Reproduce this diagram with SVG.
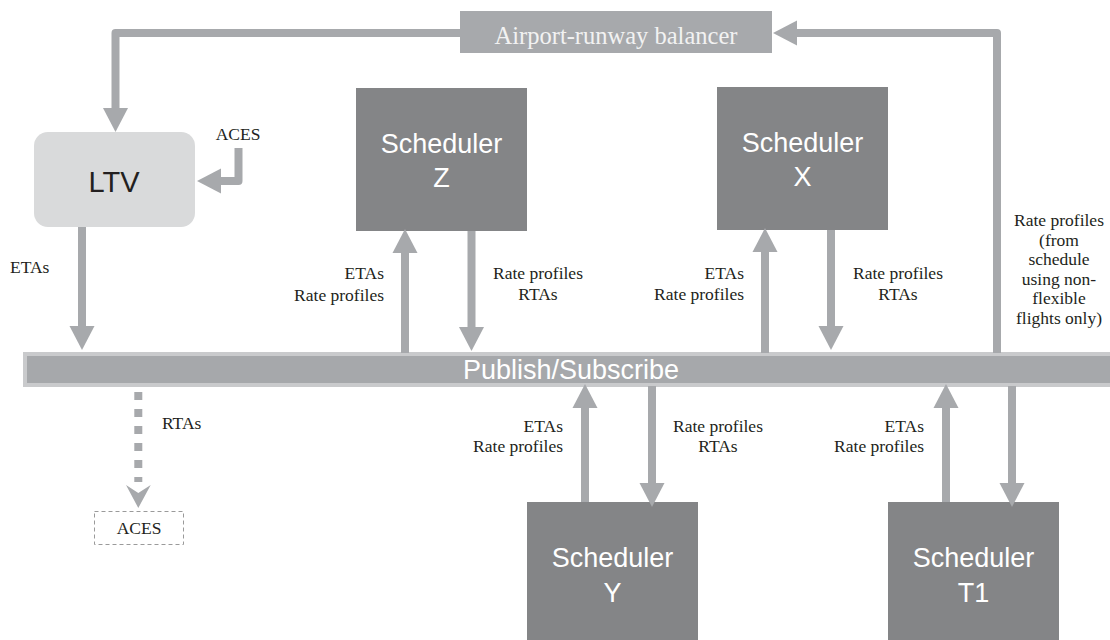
<svg xmlns="http://www.w3.org/2000/svg" width="1110" height="640" viewBox="0 0 1110 640">
  <style>
    .sched { fill: #848587; }
    .sched-text { font-family: "Liberation Sans", Arial, sans-serif; font-size: 27px; fill: #ffffff; text-anchor: middle; }
    .lbl { font-family: "Liberation Serif", "Times New Roman", serif; font-size: 17.5px; fill: #231f20; }
    .mid { text-anchor: middle; }
    .end { text-anchor: end; }
    .wire { fill: none; stroke: #a7a9ac; stroke-width: 8; stroke-linejoin: round; marker-end: url(#head); }
  </style>
  <defs>
    <marker id="head" markerUnits="userSpaceOnUse" markerWidth="26" markerHeight="28" refX="0" refY="13" orient="auto" overflow="visible">
      <path d="M0,0.5 L24,13 L0,25.5 Z" fill="#a7a9ac"/>
    </marker>
  </defs>

  <rect width="1110" height="640" fill="#ffffff"/>

  <!-- Nodes -->
  <g id="balancer">
    <rect x="460" y="11" width="312" height="42" fill="#a7a9ac"/>
    <text x="616" y="44" font-family="'Liberation Serif', 'Times New Roman', serif" font-size="24.5" fill="#f2f2f2" text-anchor="middle">Airport-runway balancer</text>
  </g>

  <g id="ltv">
    <rect x="34" y="132" width="161" height="95" rx="14" fill="#d9dadb"/>
    <text x="114" y="192" font-family="'Liberation Sans', Arial, sans-serif" font-size="29" fill="#231f20" text-anchor="middle">LTV</text>
  </g>

  <g id="scheduler-z">
    <rect class="sched" x="356" y="88" width="171" height="143"/>
    <text class="sched-text" x="441.5" y="153">Scheduler</text>
    <text class="sched-text" x="441.5" y="187">Z</text>
  </g>

  <g id="scheduler-x">
    <rect class="sched" x="717" y="87" width="171" height="143"/>
    <text class="sched-text" x="802.5" y="152">Scheduler</text>
    <text class="sched-text" x="802.5" y="186">X</text>
  </g>

  <g id="scheduler-y">
    <rect class="sched" x="527" y="502" width="171" height="140"/>
    <text class="sched-text" x="612.5" y="567">Scheduler</text>
    <text class="sched-text" x="612.5" y="602">Y</text>
  </g>

  <g id="scheduler-t1">
    <rect class="sched" x="888" y="502" width="171" height="140"/>
    <text class="sched-text" x="973.5" y="567">Scheduler</text>
    <text class="sched-text" x="973.5" y="602">T1</text>
  </g>

  <g id="bus">
    <rect x="25" y="354" width="1090" height="31" fill="#a6a8ab" stroke="#c9cacc" stroke-width="4"/>
    <text x="571" y="379" font-family="'Liberation Sans', Arial, sans-serif" font-size="27" fill="#ffffff" text-anchor="middle">Publish/Subscribe</text>
  </g>

  <g id="aces-out">
    <rect x="94.5" y="511.5" width="89" height="33" fill="none" stroke="#9a9a9a" stroke-width="1" stroke-dasharray="4 3"/>
    <text class="lbl mid" x="139" y="534">ACES</text>
  </g>

  <!-- Connectors -->
  <g id="connectors">
    <!-- balancer to LTV -->
    <path class="wire" d="M460,33 H115.5 V108"/>
    <!-- bus up to balancer -->
    <path class="wire" d="M997,353 V33 H797"/>
    <!-- ACES feed into LTV -->
    <path class="wire" stroke-width="7" d="M238.5,148 V181 H221"/>
    <!-- LTV ETAs to bus -->
    <path class="wire" d="M82,227 V326"/>
    <!-- Scheduler Z -->
    <path class="wire" d="M405,353 V253"/>
    <path class="wire" d="M471.5,231 V327"/>
    <!-- Scheduler X -->
    <path class="wire" d="M765,353 V252"/>
    <path class="wire" d="M831,230 V326"/>
    <!-- Scheduler Y -->
    <path class="wire" d="M585,502 V408"/>
    <path class="wire" d="M652,386 V483"/>
    <!-- Scheduler T1 -->
    <path class="wire" d="M946,502 V408"/>
    <path class="wire" d="M1012,386 V483"/>
    <!-- RTAs to ACES (dotted) -->
    <path d="M138.3,392 V482" fill="none" stroke="#a7a9ac" stroke-width="8" stroke-dasharray="8 9"/>
    <polygon points="126,485 138.3,493 150.7,485 138.3,508" fill="#a7a9ac"/>
  </g>

  <!-- Connector labels -->
  <g id="labels">
    <text class="lbl mid" x="238" y="140">ACES</text>
    <text class="lbl" x="10" y="273">ETAs</text>

    <text class="lbl end" x="384" y="279">ETAs</text>
    <text class="lbl end" x="384" y="301">Rate profiles</text>
    <text class="lbl mid" x="538" y="279">Rate profiles</text>
    <text class="lbl mid" x="538" y="300">RTAs</text>

    <text class="lbl end" x="744" y="279">ETAs</text>
    <text class="lbl end" x="744" y="300">Rate profiles</text>
    <text class="lbl mid" x="898" y="279">Rate profiles</text>
    <text class="lbl mid" x="898" y="300">RTAs</text>

    <text class="lbl mid" x="1059" y="226">Rate profiles</text>
    <text class="lbl mid" x="1059" y="245.6">(from</text>
    <text class="lbl mid" x="1059" y="265.2">schedule</text>
    <text class="lbl mid" x="1059" y="284.8">using non-</text>
    <text class="lbl mid" x="1059" y="304.4">flexible</text>
    <text class="lbl mid" x="1059" y="324">flights only)</text>

    <text class="lbl end" x="563" y="432">ETAs</text>
    <text class="lbl end" x="563" y="452">Rate profiles</text>
    <text class="lbl mid" x="718" y="432">Rate profiles</text>
    <text class="lbl mid" x="718" y="452">RTAs</text>

    <text class="lbl end" x="924" y="432">ETAs</text>
    <text class="lbl end" x="924" y="452">Rate profiles</text>

    <text class="lbl" x="162" y="429">RTAs</text>
  </g>
</svg>
